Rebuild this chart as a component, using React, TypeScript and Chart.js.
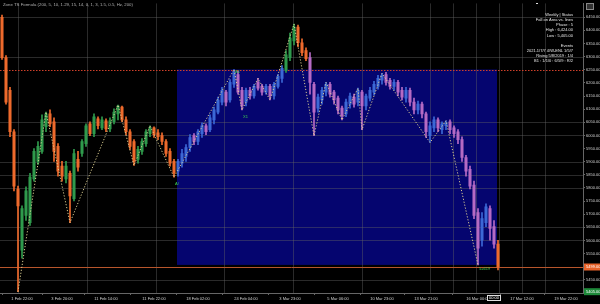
import React, { useEffect, useRef } from "react";
import { Chart, registerables } from "chart.js";
Chart.register(...registerables);

// ---- data ----
const opens = [
  6450, 6296, 6172, 6014, 5796, 5563, 5695, 5668, 5834, 5901,
  5939, 6033, 6082, 6052, 5958, 5883, 5834, 5856, 5759, 5909,
  5931, 5969, 6044, 6007, 6063, 6029, 6056, 6025, 6052, 6082,
  6108, 6059, 6014, 5977, 5909, 5939, 5969, 6007, 6029, 6010,
  5999, 5977, 5939, 5901, 5864, 5894, 5920, 5954, 5999, 5977,
  6007, 6037, 6022, 6059, 6089, 6127, 6165, 6135, 6195, 6232,
  6172, 6127, 6172, 6150, 6202, 6187, 6165, 6187, 6150, 6187,
  6217, 6247, 6296, 6360, 6413, 6353, 6323, 6296, 6195, 6104,
  6135, 6165, 6195, 6165, 6142, 6104, 6082, 6119, 6146, 6127,
  6165, 6112, 6142, 6165, 6187, 6210, 6232, 6210, 6187, 6202,
  6172, 6142, 6172, 6127, 6097, 6119, 6082, 5999, 6029, 6059,
  6022, 6037, 6052, 6029, 6014, 5984, 5916, 5871, 5811, 5706,
  5601, 5668, 5721, 5653, 5586,
];
const highs = [
  6458, 6304, 6183, 6022, 5807, 5732, 5804, 5856, 5950, 5977,
  6078, 6089, 6097, 6067, 5969, 5901, 5901, 5864, 5947, 5939,
  5984, 6044, 6052, 6082, 6071, 6071, 6063, 6067, 6101, 6116,
  6112, 6071, 6022, 5984, 5958, 5988, 6022, 6037, 6033, 6022,
  6010, 5984, 5950, 5909, 5909, 5947, 5965, 6003, 6007, 6022,
  6048, 6044, 6078, 6108, 6146, 6183, 6172, 6213, 6251, 6244,
  6183, 6180, 6183, 6195, 6217, 6195, 6195, 6195, 6202, 6232,
  6266, 6323, 6390, 6424, 6420, 6368, 6334, 6315, 6202, 6157,
  6183, 6202, 6202, 6172, 6150, 6112, 6138, 6161, 6157, 6180,
  6172, 6157, 6183, 6206, 6229, 6236, 6240, 6217, 6213, 6210,
  6183, 6183, 6180, 6142, 6131, 6127, 6089, 6052, 6071, 6067,
  6052, 6056, 6059, 6037, 6022, 5995, 5924, 5883, 5826, 5721,
  5706, 5740, 5732, 5676, 5601,
];
const lows = [
  6289, 6119, 5995, 5789, 5405, 5533, 5676, 5657, 5826, 5890,
  5931, 6014, 6033, 5901, 5845, 5826, 5819, 5668, 5751, 5864,
  5920, 5958, 5999, 5995, 6025, 6022, 6014, 6014, 6044, 6059,
  6052, 6003, 5947, 5886, 5894, 5928, 5958, 5995, 5992, 5984,
  5965, 5920, 5883, 5841, 5845, 5879, 5901, 5939, 5965, 5965,
  5992, 6003, 6014, 6044, 6082, 6116, 6112, 6127, 6183, 6157,
  6097, 6112, 6138, 6142, 6172, 6153, 6157, 6135, 6138, 6180,
  6202, 6240, 6285, 6345, 6338, 6304, 6285, 6157, 5999, 6089,
  6119, 6150, 6146, 6119, 6082, 6059, 6071, 6104, 6108, 6112,
  6022, 6097, 6131, 6153, 6176, 6195, 6191, 6176, 6172, 6150,
  6135, 6127, 6112, 6082, 6082, 6067, 5992, 5973, 6014, 6014,
  6007, 6022, 6007, 5992, 5969, 5901, 5845, 5796, 5683, 5507,
  5578, 5653, 5601, 5571, 5488,
];
const closes = [
  6296, 6127, 6014, 5807, 5732, 5721, 5789, 5841, 5939, 5958,
  6059, 6082, 6044, 5939, 5864, 5845, 5883, 5770, 5931, 5879,
  5977, 6037, 6007, 6071, 6037, 6059, 6025, 6056, 6089, 6112,
  6059, 6014, 5958, 5901, 5947, 5977, 6014, 6029, 6003, 5995,
  5977, 5931, 5894, 5856, 5901, 5931, 5954, 5992, 5977, 6014,
  6037, 6014, 6067, 6097, 6135, 6172, 6127, 6202, 6240, 6165,
  6112, 6172, 6150, 6187, 6180, 6165, 6187, 6150, 6195, 6225,
  6255, 6307, 6371, 6413, 6353, 6315, 6292, 6202, 6089, 6146,
  6172, 6195, 6157, 6135, 6097, 6074, 6127, 6150, 6119, 6172,
  6112, 6150, 6172, 6195, 6217, 6229, 6202, 6187, 6202, 6165,
  6146, 6172, 6127, 6097, 6119, 6082, 6014, 6037, 6059, 6029,
  6044, 6048, 6022, 6007, 5984, 5916, 5864, 5807, 5695, 5571,
  5683, 5728, 5646, 5586, 5499,
];

// zigzag pivots (bar index, price)
const pivotBars = [4, 11, 17, 29, 33, 37, 43, 58, 60, 64, 67, 73, 78, 81, 85, 89, 90, 95, 107, 111, 119];
const pivotPrices = [5405, 6089, 5668, 6116, 5886, 6037, 5841, 6251, 6097, 6217, 6135, 6424, 5999, 6202, 6059, 6180, 6022, 6236, 5973, 6056, 5507];

// x axis tick positions (bar index) and labels
const xTickBars = [5, 15, 26, 38, 49, 61, 72, 84, 95, 106, 119, 130, 141];
const xTickLabels = [
  "1 Feb 22:00", "3 Feb 20:00", "11 Feb 14:00", "11 Feb 22:00", "18 Feb 02:00",
  "24 Feb 04:00", "3 Mar 23:00", "5 Mar 06:00", "10 Mar 23:00", "13 Mar 21:00",
  "16 Mar 00:00", "17 Mar 12:00", "19 Mar 22:00",
];
const yTickValues = [
  5400, 5450, 5500, 5550, 5600, 5650, 5700, 5750, 5800, 5850, 5900,
  5950, 6000, 6050, 6100, 6150, 6200, 6250, 6300, 6350, 6400, 6450,
];
const gridYValues = [6450, 6300, 6050, 6000, 5900, 5850, 5800, 5650, 5600, 5450];
const gridXValues = [4, 21.25, 38.5, 55.5, 72.75, 90, 107, 112.75, 118.5, 124.25, 130, 135.75];

// zone box and levels
const zoneStartX = 43.75;
const zoneEndX = 123.75;
const zoneFirstBar = 44;
const zoneLastBar = 123;
const zoneTop = 6251;
const zoneBottom = 5507;
const resistanceLevel = 6251;
const lastPrice = 5499;
const markerPrice = 5405;

const titleText = "Zone TS Formula (200, 5, 10, 1.29, 15, 14, 0, 1, 3, 1.5, 0.5, Hz, 200)";
const infoLines = [
  "Weekly | Status",
  "Fall on Area vs. lines",
  "Phase : 5",
  "High : 6,424.00",
  "Low : 5,405.00",
  "",
  "Events",
  "2021.1/7/7 4/W-ENL 1/5/7",
  "Rising 5/8/2019 : 1/4",
  "B1 : 1/1/0 : 6/5/9 : R/2",
];
const pivotNotes = [
  { bar: 43, price: 5841, text: "A/", dy: 7 },
  { bar: 58, price: 6251, text: "A1", dy: 2 },
  { bar: 60, price: 6097, text: "X1", dy: 7 },
  { bar: 119, price: 5507, text: "5=619", dy: 4 },
];
const cursorLabel = "00:00";

const UP = "#2f9a4c";
const DOWN = "#ee6a2c";
const UP_IN = "#3c68d6";
const DOWN_IN = "#b56ac4";
const ZONE = "#05056f";
const FONT = '"Liberation Sans", Arial, sans-serif';

export default function App() {
  const ref = useRef<HTMLCanvasElement>(null);

  useEffect(() => {
    document.body.style.margin = "0";
    document.body.style.background = "#000";
    const canvas = ref.current!;
    const isUp = (i: number) => closes[i] >= opens[i];
    const inZone = (i: number) =>
      i >= zoneFirstBar && i <= zoneLastBar && (opens[i] + closes[i]) / 2 < zoneTop;
    const colorFor = (i: number) =>
      inZone(i) ? (isUp(i) ? UP_IN : DOWN_IN) : isUp(i) ? UP : DOWN;

    const decor = {
      id: "decor",
      beforeDraw(chart: any) {
        const c = chart.ctx;
        c.save();
        c.fillStyle = "#000";
        c.fillRect(0, 0, chart.width, chart.height);
        c.restore();
      },
      beforeDatasetsDraw(chart: any) {
        const c = chart.ctx;
        const xs = chart.scales.x;
        const ys = chart.scales.y;
        const a = chart.chartArea;
        c.save();
        // zone
        const x0 = xs.getPixelForValue(zoneStartX);
        const x1 = xs.getPixelForValue(zoneEndX);
        const y0 = ys.getPixelForValue(zoneTop);
        const y1 = ys.getPixelForValue(zoneBottom);
        c.fillStyle = ZONE;
        c.fillRect(x0, y0, x1 - x0, y1 - y0);
        // grid
        c.strokeStyle = "rgba(100,100,100,0.42)";
        c.lineWidth = 1;
        for (const gx of gridXValues) {
          const px = Math.round(xs.getPixelForValue(gx)) + 0.5;
          c.beginPath();
          c.moveTo(px, a.top);
          c.lineTo(px, a.bottom);
          c.stroke();
        }
        for (const gy of gridYValues) {
          const py = Math.round(ys.getPixelForValue(gy)) + 0.5;
          c.beginPath();
          c.moveTo(a.left, py);
          c.lineTo(a.right, py);
          c.stroke();
        }
        // last price line
        const lp = Math.round(ys.getPixelForValue(lastPrice)) + 0.5;
        c.strokeStyle = "#b8562c";
        c.beginPath();
        c.moveTo(a.left, lp);
        c.lineTo(a.right, lp);
        c.stroke();
        // resistance dotted
        const rp = Math.round(ys.getPixelForValue(resistanceLevel)) + 0.5;
        c.strokeStyle = "#d0402a";
        c.setLineDash([1.5, 1.5]);
        c.beginPath();
        c.moveTo(a.left, rp);
        c.lineTo(a.right, rp);
        c.stroke();
        c.restore();
      },
      afterDatasetsDraw(chart: any) {
        const c = chart.ctx;
        const xs = chart.scales.x;
        const ys = chart.scales.y;
        c.save();
        c.font = `4px ${FONT}`;
        c.fillStyle = "#3fd04f";
        c.textAlign = "left";
        c.textBaseline = "middle";
        for (const n of pivotNotes) {
          c.fillText(n.text, xs.getPixelForValue(n.bar) + 1, ys.getPixelForValue(n.price) + n.dy);
        }
        c.restore();
      },
      afterDraw(chart: any) {
        const c = chart.ctx;
        const xs = chart.scales.x;
        const ys = chart.scales.y;
        const a = chart.chartArea;
        c.save();
        // title
        c.font = `4.3px ${FONT}`;
        c.fillStyle = "#b0b0b0";
        c.textAlign = "left";
        c.textBaseline = "middle";
        c.fillText(titleText, 3, 5);
        // info block
        c.font = `4px ${FONT}`;
        c.fillStyle = "#e6e6e6";
        c.textAlign = "right";
        infoLines.forEach((t, k) => {
          if (t) c.fillText(t, 573, 15 + k * 5.1);
        });
        // top-right icon
        c.strokeStyle = "#888";
        c.fillStyle = "#333";
        c.fillRect(586, 3, 8, 7);
        c.strokeRect(586.5, 3.5, 7, 6);
        c.fillStyle = "#ddd";
        c.fillRect(536, 3, 2, 1);
        // price boxes
        const boxes = [
          { v: lastPrice, bg: "#e8632a" },
          { v: markerPrice, bg: "#1e8a3a" },
        ];
        for (const b of boxes) {
          const py = ys.getPixelForValue(b.v);
          c.fillStyle = b.bg;
          c.fillRect(a.right + 1, py - 3.5, 16, 7);
          c.fillStyle = "#fff";
          c.textAlign = "left";
          c.fillText(b.v.toFixed(2), a.right + 3, py);
        }
        // cursor time box
        const cx = xs.getPixelForValue(zoneEndX) - 3;
        c.fillStyle = "#000";
        c.fillRect(cx - 7, a.bottom + 2, 14, 6);
        c.strokeStyle = "#e0e0e0";
        c.strokeRect(cx - 6.5, a.bottom + 2.5, 13, 5);
        c.fillStyle = "#fff";
        c.textAlign = "center";
        c.fillText(cursorLabel, cx, a.bottom + 5);
        c.restore();
      },
    };

    const chart = new Chart(canvas, {
      type: "bar",
      data: {
        datasets: [
          {
            type: "line",
            data: pivotBars.map((b, k) => ({ x: b, y: pivotPrices[k] })),
            borderColor: "rgba(228,214,150,0.95)",
            borderWidth: 1,
            borderDash: [1.2, 1.8],
            pointRadius: 0,
            tension: 0,
            order: 0,
          } as any,
          {
            type: "bar",
            data: opens.map((o, i) => ({ x: i, y: [o, closes[i]] })),
            backgroundColor: (ctx: any) => colorFor(ctx.dataIndex),
            barThickness: 2.4,
            grouped: false,
            minBarLength: 1,
            order: 1,
          } as any,
          {
            type: "bar",
            data: lows.map((l, i) => ({ x: i, y: [l, highs[i]] })),
            backgroundColor: (ctx: any) => colorFor(ctx.dataIndex),
            barThickness: 1,
            grouped: false,
            order: 2,
          } as any,
        ],
      },
      options: {
        animation: false,
        responsive: false,
        devicePixelRatio: 1,
        maintainAspectRatio: false,
        layout: { padding: 0 },
        plugins: { legend: { display: false }, tooltip: { enabled: false } },
        scales: {
          x: {
            type: "linear",
            min: -0.5,
            max: 145.25,
            offset: false,
            afterBuildTicks: (s: any) => {
              s.ticks = xTickBars.map((v) => ({ value: v }));
            },
            afterFit: (s: any) => {
              s.height = 11;
            },
            grid: { drawOnChartArea: false, tickLength: 2, color: "#666" },
            border: { display: true, color: "#666" },
            ticks: {
              autoSkip: false,
              maxRotation: 0,
              padding: 1,
              color: "#d0d0d0",
              font: { size: 4, family: FONT },
              callback: (_v: any, i: number) => xTickLabels[i],
            },
          },
          y: {
            type: "linear",
            position: "right",
            min: 5400,
            max: 6502.7,
            afterBuildTicks: (s: any) => {
              s.ticks = yTickValues.map((v) => ({ value: v }));
            },
            afterFit: (s: any) => {
              s.width = 17;
            },
            grid: { drawOnChartArea: false, tickLength: 2, color: "#666" },
            border: { display: true, color: "#666" },
            ticks: {
              padding: 1,
              color: "#d0d0d0",
              font: { size: 4, family: FONT },
              callback: (v: any) => Number(v).toFixed(2),
            },
          },
        },
      } as any,
      plugins: [decor],
    });
    return () => chart.destroy();
  }, []);

  return (
    <div style={{ width: 600, height: 304, background: "#000" }}>
      <canvas ref={ref} width={600} height={304} style={{ display: "block" }} />
    </div>
  );
}
